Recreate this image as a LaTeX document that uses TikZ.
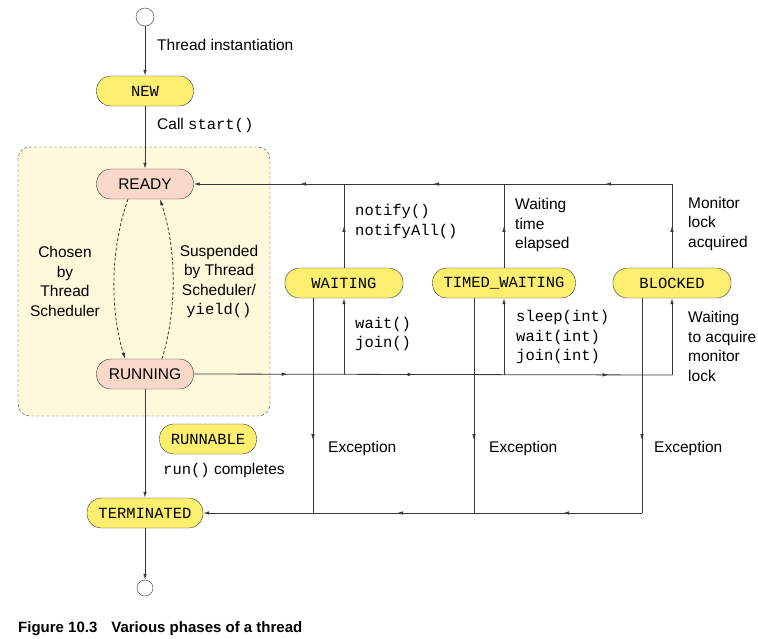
\documentclass[tikz,border=0pt]{standalone}
\usepackage{fontspec}
\setmainfont{Liberation Sans}
\setmonofont{Liberation Mono}
\usetikzlibrary{arrows.meta,positioning,decorations.markings}

\definecolor{stateyellow}{RGB}{252,238,110}
\definecolor{statepink}{RGB}{249,216,202}
\definecolor{runbg}{RGB}{255,249,219}
\definecolor{edgegray}{RGB}{55,55,55}

\begin{document}
\begin{tikzpicture}[
  x=1pt, y=-1pt,
  >={Latex[length=6pt,width=3.5pt]},
  every node/.style={font=\fontsize{15.5}{19.5}\selectfont},
  state/.style={draw=edgegray, rounded corners=14.5pt, minimum height=30pt, minimum width=97pt, inner sep=0pt, fill=stateyellow, font=\ttfamily\fontsize{15.5}{19.5}\selectfont},
  active/.style={state, fill=statepink, font=\fontsize{15.5}{19.5}\selectfont},
  pseudo/.style={draw=edgegray, circle, minimum size=18pt, inner sep=0pt, fill=white},
  lbl/.style={inner sep=0pt, anchor=west, align=left},
  flow/.style={draw=edgegray, line width=0.8pt},
  sched/.style={flow, ->, dash pattern=on 3pt off 2pt},
  mid/.style={postaction={decorate, decoration={markings, mark=at position #1 with {\arrow{>}}}}}
]
  \useasboundingbox (0,0) rectangle (758,638);

  % runnable area
  \draw[draw=edgegray, fill=runbg, dash pattern=on 3pt off 2pt, rounded corners=12pt] (18,147) rectangle (270,416);

  % main column
  \node[pseudo] (start) at (145,17) {};
  \node[state] (new) at (145,91) {NEW};
  \node[active] (ready) at (145,184) {READY};
  \node[active] (running) at (145,374) {RUNNING};
  \node[state] (runnable) at (208,439) {RUNNABLE};
  \node[state, minimum width=116pt] (terminated) at (145,513) {TERMINATED};
  \node[pseudo, minimum size=16pt] (stop) at (145,588) {};

  % waiting states
  \node[state, minimum width=118pt] (waiting) at (344,283) {WAITING};
  \node[state, minimum width=143pt] (timed) at (504,283) {TIMED\_WAITING};
  \node[state, minimum width=118pt] (blocked) at (672,283) {BLOCKED};

  \coordinate (wtop) at (344,184);
  \coordinate (ttop) at (504,184);
  \coordinate (btop) at (672,184);
  \coordinate (wbot) at (344,375);
  \coordinate (tbot) at (504,375);
  \coordinate (bbot) at (672,375);
  \coordinate (wexc) at (313,513);
  \coordinate (texc) at (474,513);
  \coordinate (bexc) at (642,513);

  % column arrows
  \draw[flow, ->] (start) -- (new);
  \draw[flow, ->] (new) -- (ready);
  \draw[flow, ->] (running) -- (terminated);
  \draw[flow, ->] (terminated) -- (stop);

  \draw[sched] ([xshift=-17pt]ready.south) .. controls (110,250) and (110,310) .. ([xshift=-20pt]running.north);
  \draw[sched] ([xshift=17pt]running.north) .. controls (177,310) and (177,250) .. ([xshift=15pt]ready.south);

  % back to READY
  \draw[flow, ->, mid=67pt, mid=239pt, mid=372pt] (btop) -- (ready.east);
  \draw[flow, mid=0.5] (waiting.north) -- (wtop);
  \draw[flow, mid=0.5] (timed.north) -- (ttop);
  \draw[flow, mid=0.5] (blocked.north) -- (btop);

  % from RUNNING
  \draw[flow, mid=94pt, mid=220pt, mid=415pt] (running.east) -- (bbot);
  \draw[flow, ->] (wbot) -- (waiting.south);
  \draw[flow, ->] (tbot) -- (timed.south);
  \draw[flow, ->] (bbot) -- (blocked.south);

  % exceptions
  \draw[flow, mid=142pt] (waiting.south -| wexc) -- (wexc);
  \draw[flow, mid=142pt] (timed.south -| texc) -- (texc);
  \draw[flow, mid=142pt] (blocked.south -| bexc) -- (bexc);
  \draw[flow, ->, mid=79pt, mid=245pt] (bexc) -- (terminated.east);

  % labels
  \node[lbl] (linst) at (157,45) {Thread instantiation};
  \node[lbl] (lstart) at (157,125) {Call \texttt{start()}};
  \node[inner sep=0pt, align=center] (lchosen) at (65,281.5) {Chosen\\by\\Thread\\Scheduler};
  \node[inner sep=0pt, align=center] (lsusp) at (219,281.5) {Suspended\\by Thread\\Scheduler/\\\texttt{yield()}};
  \node[lbl] (lrun) at (163,470) {\texttt{run()} completes};
  \node[lbl] (lnotify) at (355,221.5) {\texttt{notify()}\\\texttt{notifyAll()}};
  \node[lbl] (lwait) at (355,334) {\texttt{wait()}\\\texttt{join()}};
  \node[lbl] (lelapsed) at (515,225) {Waiting\\time\\elapsed};
  \node[lbl] (lsleep) at (516,337) {\texttt{sleep(int)}\\\texttt{wait(int)}\\\texttt{join(int)}};
  \node[lbl] (lacq) at (688,223.5) {Monitor\\lock\\acquired};
  \node[lbl] (lwacq) at (688,346.5) {Waiting\\to acquire\\monitor\\lock};
  \node[lbl] (lexw) at (328,448) {Exception};
  \node[lbl] (lext) at (489,448) {Exception};
  \node[lbl] (lexb) at (654,448) {Exception};

  \node[lbl, font=\bfseries\fontsize{15}{17}\selectfont] (caption) at (18,629) {Figure 10.3\hspace{14pt}Various phases of a thread};
\end{tikzpicture}
\end{document}
